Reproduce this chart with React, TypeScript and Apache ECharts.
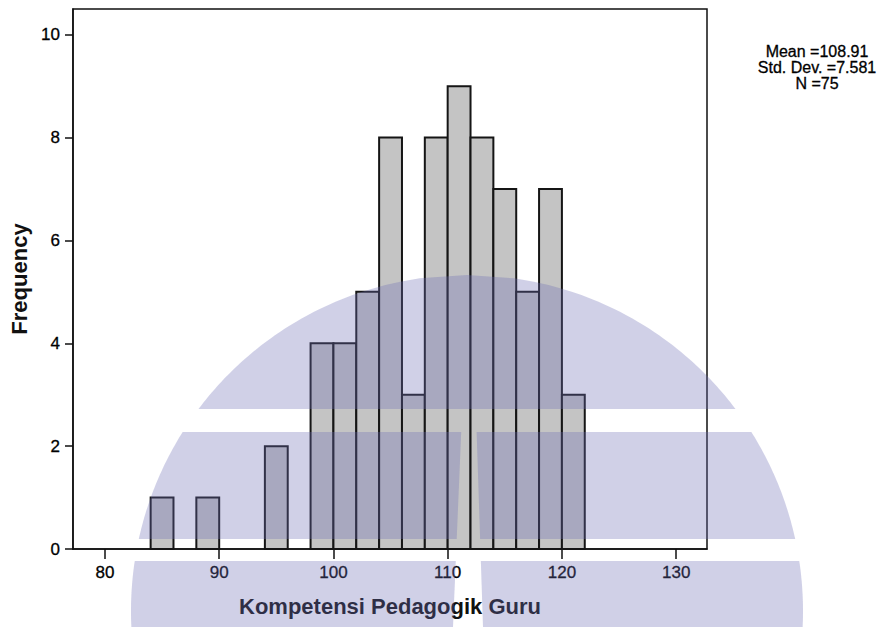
import React, { useEffect, useRef } from "react";
import * as echarts from "echarts";

// Histogram data (bin width 2)
const binStarts = [84, 88, 94, 98, 100, 102, 104, 106, 108, 110, 112, 114, 116, 118, 120];
const counts = [1, 1, 2, 4, 4, 5, 8, 3, 8, 9, 8, 7, 5, 7, 3];
const binWidth = 2;
const xTicks = [80, 90, 100, 110, 120, 130];
const yTicks = [0, 2, 4, 6, 8, 10];
const statsLines = ["Mean =108.91", "Std. Dev. =7.581", "N =75"];
const xTitle = "Kompetensi Pedagogik Guru";
const yTitle = "Frequency";

// Watermark (decorative dome split into bands)
function arcBand(cx: number, cy: number, r: number, y0: number, y1: number) {
  const pts: number[][] = [];
  const steps = 40;
  const half = (y: number) => Math.sqrt(Math.max(0, r * r - (cy - y) * (cy - y)));
  for (let i = 0; i <= steps; i++) {
    const y = y1 - ((y1 - y0) * i) / steps;
    pts.push([cx - half(y), y]);
  }
  for (let i = 0; i <= steps; i++) {
    const y = y0 + ((y1 - y0) * i) / steps;
    pts.push([cx + half(y), y]);
  }
  return pts;
}

function clipX(pts: number[][], side: "left" | "right", lineTop: [number, number], lineBot: [number, number]) {
  const [x0, y0] = lineTop;
  const [x1, y1] = lineBot;
  const f = (p: number[]) => {
    const lx = x0 + ((p[1] - y0) * (x1 - x0)) / (y1 - y0);
    return side === "left" ? lx - p[0] : p[0] - lx;
  };
  const out: number[][] = [];
  for (let i = 0; i < pts.length; i++) {
    const a = pts[i];
    const b = pts[(i + 1) % pts.length];
    const fa = f(a);
    const fb = f(b);
    if (fa >= 0) out.push(a);
    if ((fa >= 0) !== (fb >= 0)) {
      const t = fa / (fa - fb);
      out.push([a[0] + (b[0] - a[0]) * t, a[1] + (b[1] - a[1]) * t]);
    }
  }
  return out;
}

const FONT = "Liberation Sans, Arial, sans-serif";

export default function App() {
  const ref = useRef<HTMLDivElement>(null);
  useEffect(() => {
    if (!ref.current) return;
    const chart = echarts.init(ref.current, null, { renderer: "svg" });
    const cx = 467, cy = 611, R = 336;
    const wmFill = "rgba(110,110,180,0.32)";
    const band1 = arcBand(cx, cy, R, 275, 409);
    const band2 = arcBand(cx, cy, R, 432, 539);
    const band3 = arcBand(cx, cy, R, 561, 627);
    const wm = [
      band1,
      clipX(band2, "left", [462, 413], [453, 627]),
      clipX(band2, "right", [476, 413], [483, 627]),
      clipX(band3, "left", [462, 413], [453, 627]),
      clipX(band3, "right", [476, 413], [483, 627]),
    ].map((p) => ({
      type: "polygon",
      z: 100,
      silent: true,
      shape: { points: p },
      style: { fill: wmFill },
    }));

    chart.setOption({
      animation: false,
      backgroundColor: "#ffffff",
      grid: {
        left: 71,
        top: 9,
        right: 175,
        bottom: 78,
        show: true,
        borderColor: "#111",
        borderWidth: 1.5,
        backgroundColor: "transparent",
      },
      xAxis: {
        type: "value",
        min: 77.2,
        max: 132.7,
        name: xTitle,
        nameLocation: "middle",
        nameGap: 46,
        nameTextStyle: { fontFamily: FONT, fontSize: 22, fontWeight: "bold", color: "#111" },
        axisLine: { show: true, onZero: false, lineStyle: { color: "#111", width: 1.5 } },
        axisTick: { show: true, length: 10, customValues: xTicks, lineStyle: { color: "#111", width: 1.5 } },
        axisLabel: {
          customValues: xTicks,
          margin: 15,
          fontFamily: FONT,
          fontSize: 17,
          color: "#000",
          textBorderColor: "#000",
          textBorderWidth: 0.3,
        },
        splitLine: { show: false },
      },
      yAxis: {
        type: "value",
        min: 0,
        max: 10.5,
        name: yTitle,
        nameLocation: "middle",
        nameGap: 40,
        nameTextStyle: { fontFamily: FONT, fontSize: 22, fontWeight: "bold", color: "#111" },
        axisLine: { show: true, lineStyle: { color: "#111", width: 1.5 } },
        axisTick: { show: true, length: 8, customValues: yTicks, lineStyle: { color: "#111", width: 1.5 } },
        axisLabel: {
          customValues: yTicks,
          margin: 13,
          fontFamily: FONT,
          fontSize: 17,
          color: "#000",
          textBorderColor: "#000",
          textBorderWidth: 0.3,
        },
        splitLine: { show: false },
      },
      series: [
        {
          type: "custom",
          encode: { x: [0, 1], y: 2 },
          data: binStarts.map((s, i) => [s, s + binWidth, counts[i]]),
          renderItem: (params: any, api: any) => {
            const p0 = api.coord([api.value(0), api.value(2)]);
            const p1 = api.coord([api.value(1), 0]);
            return {
              type: "rect",
              shape: { x: p0[0], y: p0[1], width: p1[0] - p0[0], height: p1[1] - p0[1] },
              style: { fill: "#c4c4c4", stroke: "#151515", lineWidth: 2 },
            };
          },
        },
      ],
      graphic: [
        ...statsLines.map((t, i) => ({
          type: "text",
          x: 817,
          y: 51 + i * 16,
          z: 50,
          style: {
            text: t,
            fontFamily: FONT,
            fontSize: 16,
            align: "center",
            verticalAlign: "middle",
            fill: "#000",
            stroke: "#000",
            lineWidth: 0.3,
          },
        })),
        ...wm,
      ],
    });
    return () => chart.dispose();
  }, []);
  return (
    <div
      ref={ref}
      style={{ position: "fixed", left: 0, top: 0, width: 882, height: 627, background: "#fff" }}
    />
  );
}
